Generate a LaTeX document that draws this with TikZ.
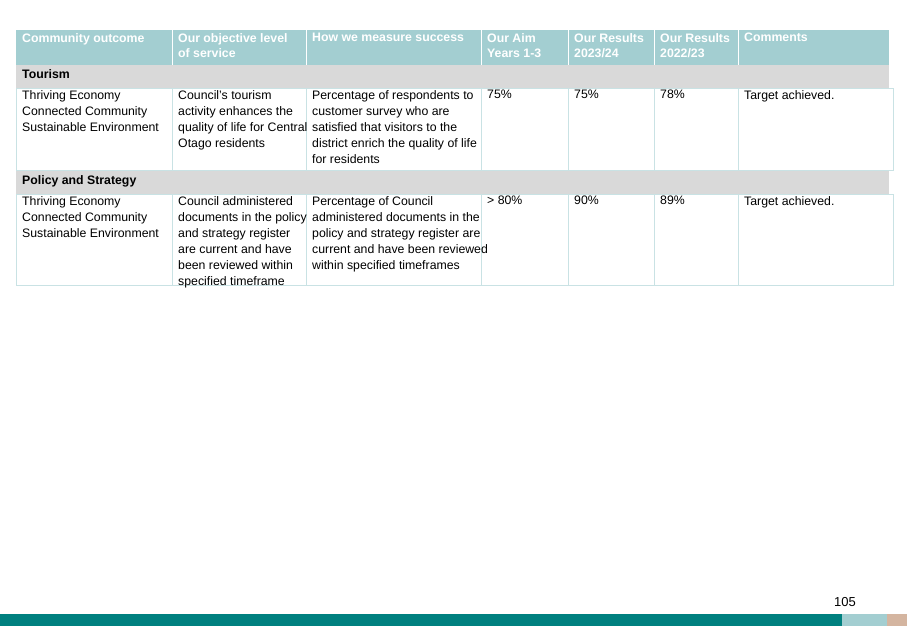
\documentclass[tikz,border=0pt]{standalone}
\usepackage{fontspec}
\setmainfont{Liberation Sans}
\definecolor{headblue}{HTML}{A3CED1}
\definecolor{rowgrey}{HTML}{D9D9D9}
\definecolor{lineblue}{HTML}{C9E2E4}
\definecolor{barteal}{HTML}{00807F}
\definecolor{bartan}{HTML}{D4B5A0}
\tikzset{
    cell/.style = {anchor = north west, inner sep = 0pt, align = left,
        font = \fontsize{12.3}{16}\selectfont},
    headcell/.style = {cell, text = white, font = \fontsize{12.3}{15.5}\selectfont\bfseries},
    grid/.style = {draw = lineblue, line width = 1pt}
}
\begin{document}
\begin{tikzpicture}[x = 1pt, y = -1pt]
    \useasboundingbox (0, 0) rectangle (907, 626);

    % header and section rows
    \fill[headblue] (16, 30) rectangle (889, 65);
    \fill[rowgrey] (16, 65) rectangle (889, 88);
    \fill[rowgrey] (16, 170) rectangle (889, 194);
    \foreach \x in {172, 306, 481, 568, 654, 738}
        \draw[white, line width = 1pt] (\x, 30) -- (\x, 65);

    % body grid
    \draw[grid] (16, 88) rectangle (893, 170);
    \draw[grid] (16, 194) rectangle (893, 285);
    \foreach \x in {172, 306, 481, 568, 654, 738} {
        \draw[grid] (\x, 88) -- (\x, 170);
        \draw[grid] (\x, 194) -- (\x, 285);
    }

    % header texts
    \node[headcell] (h1) at (22, 33) {Community outcome};
    \node[headcell] (h2) at (178, 33) {Our objective level\\of service};
    \node[headcell] (h3) at (312, 33) {How we measure success};
    \node[headcell] (h4) at (487, 33) {Our Aim\\Years 1-3};
    \node[headcell] (h5) at (574, 33) {Our Results\\2023/24};
    \node[headcell] (h6) at (660, 33) {Our Results\\2022/23};
    \node[headcell] (h7) at (744, 33) {Comments};

    % tourism
    \node[cell, font = \fontsize{12.3}{16}\selectfont\bfseries] (tour) at (22, 69) {Tourism};
    \node[cell] (t1) at (22, 90) {Thriving Economy\\Connected Community\\Sustainable Environment};
    \node[cell] (t2) at (178, 90) {Council's tourism\\activity enhances the\\quality of life for Central\\Otago residents};
    \node[cell] (t3) at (312, 90) {Percentage of respondents to\\customer survey who are\\satisfied that visitors to the\\district enrich the quality of life\\for residents};
    \node[cell] (t4) at (487, 90) {75\%};
    \node[cell] (t5) at (574, 90) {75\%};
    \node[cell] (t6) at (660, 90) {78\%};
    \node[cell] (t7) at (744, 90) {Target achieved.};

    % policy and strategy
    \node[cell, font = \fontsize{12.3}{16}\selectfont\bfseries] (pol) at (22, 175) {Policy and Strategy};
    \node[cell] (p1) at (22, 196) {Thriving Economy\\Connected Community\\Sustainable Environment};
    \node[cell] (p2) at (178, 196) {Council administered\\documents in the policy\\and strategy register\\are current and have\\been reviewed within\\specified timeframe};
    \node[cell] (p3) at (312, 196) {Percentage of Council\\administered documents in the\\policy and strategy register are\\current and have been reviewed\\within specified timeframes};
    \node[cell] (p4) at (487, 196) {> 80\%};
    \node[cell] (p5) at (574, 196) {90\%};
    \node[cell] (p6) at (660, 196) {89\%};
    \node[cell] (p7) at (744, 196) {Target achieved.};

    % footer
    \node[font = \fontsize{13}{15}\selectfont] (page) at (845, 602) {105};
    \fill[barteal] (0, 614) rectangle (842, 626);
    \fill[headblue] (842, 614) rectangle (887, 626);
    \fill[bartan] (887, 614) rectangle (907, 626);
\end{tikzpicture}
\end{document}
